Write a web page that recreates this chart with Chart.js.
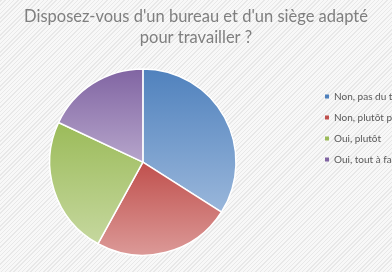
<!DOCTYPE html>
<html lang="fr">
<head>
<meta charset="utf-8">
<script src="https://cdn.jsdelivr.net/npm/chart.js@4"></script>
<style>
  html, body { margin: 0; padding: 0; }
  .chart-wrap {
    width: 392px;
    height: 272px;
    overflow: hidden;
    background: repeating-linear-gradient(-45deg, #e8e8e8 0px, #e8e8e8 1px, #f8f8f8 1px, #f8f8f8 3px);
  }
  canvas { display: block; }
</style>
</head>
<body>
<div class="chart-wrap">
  <canvas id="pieChart" width="392" height="272"></canvas>
</div>
<script>
// Données (parts en %)
const titleLines = ["Disposez-vous d'un bureau et d'un siège adapté", 'pour travailler ?'];
const answers = ['Non, pas du tout', 'Non, plutôt pas', 'Oui, plutôt', 'Oui, tout à fait'];
const shares = [34, 24, 24, 18];

// couleurs Office : haut du dégradé / bas du dégradé
const topColors = ['#4f81bd', '#c0504d', '#9bbb59', '#8064a2'];
const bottomColors = ['#9ab7db', '#dc9a98', '#c6d89f', '#b6a5cb'];

const PLOT_LEFT = 49;
const LEGEND_LEFT = 314;

function sliceGradient(ctx) {
  const chart = ctx.chart;
  const area = chart.chartArea;
  const i = ctx.dataIndex;
  if (!area || i === undefined) return topColors[i] || topColors[0];
  const cx = (area.left + area.right) / 2;
  const cy = (area.top + area.bottom) / 2;
  const r = Math.min(area.right - area.left, area.bottom - area.top) / 2;
  const total = shares.reduce((s, v) => s + v, 0);
  let start = -Math.PI / 2;
  for (let k = 0; k < i; k++) start += (shares[k] / total) * Math.PI * 2;
  const end = start + (shares[i] / total) * Math.PI * 2;
  const ys = [cy, cy + r * Math.sin(start), cy + r * Math.sin(end)];
  [-Math.PI / 2, Math.PI / 2, Math.PI * 1.5].forEach((a) => {
    if (a >= start && a <= end) ys.push(cy + r * Math.sin(a));
  });
  const g = chart.ctx.createLinearGradient(0, Math.min(...ys), 0, Math.max(...ys));
  g.addColorStop(0, topColors[i]);
  g.addColorStop(1, bottomColors[i]);
  return g;
}

// zone de tracé carrée à gauche, légende collée à droite (comme Excel)
const plotBox = {
  id: 'plotBox',
  afterLayout(chart) {
    const a = chart.chartArea;
    const size = a.bottom - a.top;
    a.left = PLOT_LEFT;
    a.right = PLOT_LEFT + size;
    a.width = size;
    const lg = chart.legend;
    if (lg) {
      const w = lg.width;
      lg.left = LEGEND_LEFT;
      lg.right = LEGEND_LEFT + w;
    }
  }
};

new Chart(document.querySelector('#pieChart'), {
  type: 'pie',
  data: {
    labels: answers,
    datasets: [
      {
        data: shares,
        backgroundColor: sliceGradient,
        borderColor: '#ffffff',
        borderWidth: 1.5,
        clip: false
      }
    ]
  },
  plugins: [plotBox],
  options: {
    responsive: false,
    animation: false,
    layout: { padding: { top: 0, bottom: 16 } },
    plugins: {
      tooltip: { enabled: false },
      title: {
        display: true,
        text: titleLines,
        color: '#7f7f7f',
        font: { family: 'Lato', size: 16.5, weight: 'normal', lineHeight: 1.28 },
        padding: { top: 6, bottom: 20 }
      },
      legend: {
        position: 'right',
        align: 'center',
        labels: {
          color: '#595959',
          font: { family: 'Lato', size: 10 },
          boxWidth: 4,
          boxHeight: 4,
          padding: 11,
          generateLabels(chart) {
            const items = Chart.overrides.pie.plugins.legend.labels.generateLabels(chart);
            return items.map((item, i) => ({
              ...item,
              fillStyle: topColors[i],
              strokeStyle: topColors[i],
              lineWidth: 0
            }));
          }
        }
      }
    }
  }
});
</script>
</body>
</html>
